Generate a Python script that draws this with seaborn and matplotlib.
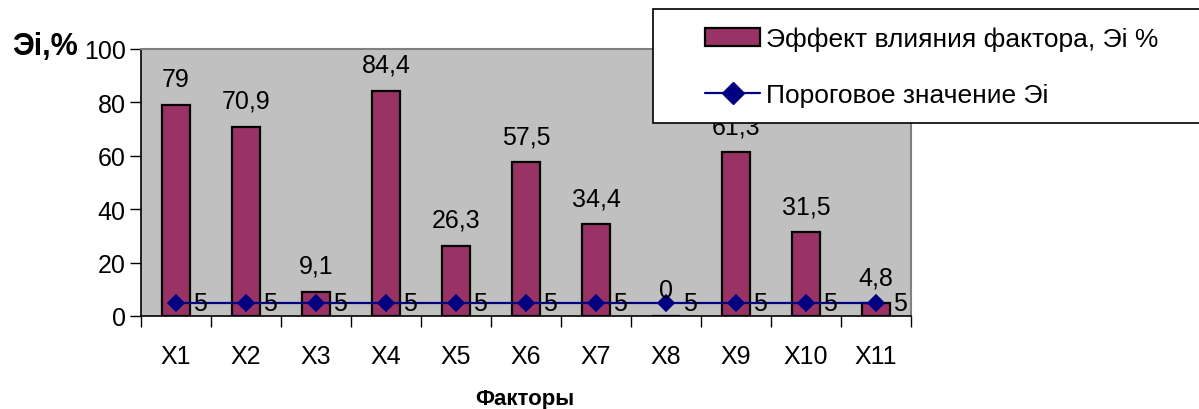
import matplotlib
matplotlib.use("Agg")
import matplotlib.pyplot as plt
from matplotlib.patches import Rectangle
from matplotlib.ticker import FixedLocator
import seaborn as sns
import numpy as np

factors = ["X1", "X2", "X3", "X4", "X5", "X6", "X7", "X8", "X9", "X10", "X11"]
effect = [79, 70.9, 9.1, 84.4, 26.3, 57.5, 34.4, 0, 61.3, 31.5, 4.8]
threshold = [5] * len(factors)

effect_name = "Эффект влияния фактора, Эi %"
threshold_name = "Пороговое значение Эi"

sns.set_style("white")
plt.rcParams["font.family"] = ["Liberation Sans", "DejaVu Sans"]
plt.rcParams["text.color"] = "black"
plt.rcParams["xtick.color"] = "black"
plt.rcParams["ytick.color"] = "black"

BAR = "#993366"
LINE = "#000080"
FS = 18

fig = plt.figure(figsize=(11.99, 4.10), dpi=100)
ax = fig.add_axes([141 / 1199, 1 - 317 / 410, (911 - 141) / 1199, (317 - 50) / 410])
ax.set_facecolor("#C0C0C0")

sns.barplot(x=factors, y=effect, color=BAR, edgecolor="black", linewidth=1.6,
            width=0.41, saturation=1, ax=ax, zorder=2)
sns.pointplot(x=factors, y=threshold, color=LINE, markers="D", linestyles="-",
              ax=ax, zorder=3, markersize=8, linewidth=1.6)

ax.set_ylim(0, 100)
ax.set_xlim(-0.5, len(factors) - 0.5)
ax.set_yticks(np.arange(0, 101, 20))
ax.tick_params(axis="y", labelsize=FS, length=8, width=1, color="black", pad=3, left=True)
ax.tick_params(axis="x", which="major", labelsize=FS, length=0, pad=20)
ax.xaxis.set_minor_locator(FixedLocator(np.arange(-0.5, len(factors), 1.0)))
ax.tick_params(axis="x", which="minor", length=8, width=1, color="black", bottom=True)
ax.set_xlabel("")
ax.set_ylabel("")

for side in ("left", "bottom"):
    ax.spines[side].set_color("black")
    ax.spines[side].set_linewidth(1.2)
for side in ("top", "right"):
    ax.spines[side].set_color("#808080")
    ax.spines[side].set_linewidth(1.5)

# value labels above the bars and next to the threshold markers
for i, (v, t) in enumerate(zip(effect, threshold)):
    ax.annotate(f"{v:g}".replace(".", ","), (i, v), xytext=(0, 10),
                textcoords="offset points", ha="center", va="bottom", fontsize=FS)
    ax.annotate(f"{t:g}", (i, t), xytext=(12, 0), textcoords="offset points",
                ha="left", va="center", fontsize=FS, zorder=4)

fig.text(12 / 1199, 1 - 47 / 410, "Эi,%", fontsize=22, fontweight="bold", va="center", ha="left")
fig.text(525 / 1199, 1 - 400 / 410, "Факторы", fontsize=16, fontweight="bold", va="center", ha="center")

# legend box
frame = Rectangle((653 / 1199, 1 - 124 / 410), (1210 - 653) / 1199, 114 / 410,
                  transform=fig.transFigure, facecolor="white", edgecolor="black",
                  linewidth=1.2, zorder=5)
fig.patches.append(frame)

handles = [
    Rectangle((0, 0), 1, 1, facecolor=BAR, edgecolor="black", linewidth=1.6),
    plt.Line2D([], [], color=LINE, marker="D", markersize=11, linewidth=1.6),
]
leg = fig.legend(handles, [effect_name, threshold_name], loc="center left",
                 bbox_to_anchor=(705 / 1199, 1 - 68 / 410), frameon=False,
                 fontsize=19, handlelength=2.1, handleheight=0.65, handletextpad=0.22,
                 labelspacing=1.2, borderpad=0, borderaxespad=0)
leg.set_zorder(6)

fig.savefig("out.png", dpi=100)
